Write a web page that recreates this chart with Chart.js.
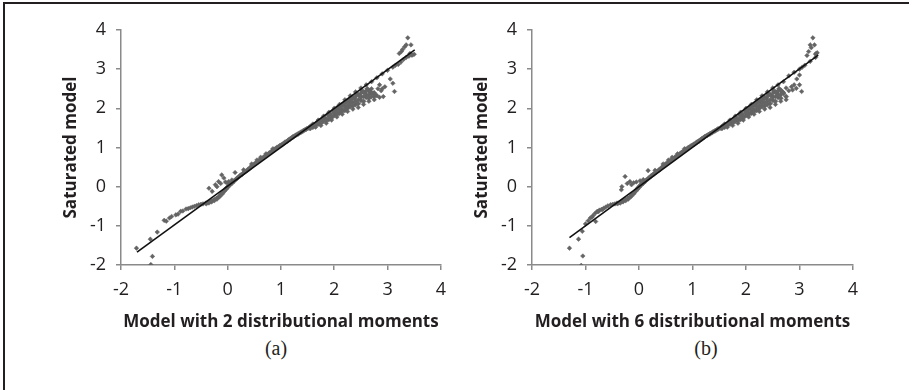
<!DOCTYPE html>
<html>
<head>
<meta charset="utf-8">
<script src="https://cdn.jsdelivr.net/npm/chart.js@4.4.1/dist/chart.umd.min.js"></script>
<style>
  html, body { margin: 0; padding: 0; background: #fff; }
  #fig { position: relative; width: 909px; height: 390px; overflow: hidden; }
  #frame { position: absolute; left: 3px; top: 2px; width: 920px; height: 400px;
           border-top: 2px solid #231f20; border-left: 2px solid #231f20; }
  .panel { position: absolute; top: 0; height: 335px; }
  .cap { position: absolute; top: 337px; font-family: "Liberation Serif", "DejaVu Serif", serif;
         font-size: 20px; color: #231f20; transform: translateX(-50%); }
</style>
</head>
<body>
<div id="fig">
  <div id="frame"></div>
  <div class="panel" style="left:0;width:455px"><canvas id="chartA" width="455" height="335"></canvas></div>
  <div class="panel" style="left:455px;width:454px"><canvas id="chartB" width="454" height="335"></canvas></div>
  <div class="cap" style="left:276px">(a)</div>
  <div class="cap" style="left:706px">(b)</div>
</div>
<script>
// axis ticks (both panels)
var tickValues = [-2, -1, 0, 1, 2, 3, 4];
var xTitles = ['Model with 2 distributional moments', 'Model with 6 distributional moments'];
var yTitle = 'Saturated model';

// fitted line end points
var fitA = [[-1.70, -1.67], [3.51, 3.49]];
var fitB = [[-1.30, -1.30], [3.35, 3.36]];

// dense middle band, shared shape in both panels
var bandMid = [
  [-0.40,-0.43],[-0.35,-0.41],[-0.30,-0.38],[-0.25,-0.35],[-0.20,-0.31],[-0.15,-0.25],
  [-0.10,-0.18],[-0.06,-0.11],[-0.02,-0.05],[0.00,-0.01],[0.04,0.04],[0.08,0.09],
  [0.125,0.15],[0.175,0.21],[0.225,0.27],[0.275,0.32],[0.325,0.38],[0.375,0.43],
  [0.425,0.49],[0.475,0.55],[0.525,0.60],[0.575,0.65],[0.625,0.70],[0.675,0.75],
  [0.725,0.80],[0.775,0.85],[0.825,0.90],[0.875,0.95],[0.925,1.00],[0.975,1.04],
  [1.025,1.08],[1.075,1.13],[1.125,1.17],[1.175,1.22],[1.225,1.27],[1.275,1.31],
  [1.325,1.35],[1.375,1.39],[1.425,1.43],[1.475,1.47],[1.525,1.50],
  [1.60,1.52],[1.70,1.60],[1.80,1.68],[1.90,1.72],[2.00,1.82],[2.10,1.88],[2.20,1.95],
  [2.30,2.05],[2.40,2.10],[2.50,2.20],[2.60,2.28],[1.58,1.56],[1.68,1.64],[1.78,1.74],
  [1.88,1.84],[1.98,1.94],[2.08,2.04],[2.18,2.12],[2.28,2.18],[2.38,2.26],[2.48,2.32],
  [2.58,2.40],[2.68,2.42],[1.62,1.58],[1.72,1.68],[1.82,1.76],[1.92,1.86],[2.02,1.96],
  [2.12,2.06],[2.22,2.16],[2.32,2.22],[2.42,2.36],[2.52,2.44],[2.62,2.50],
  [1.65,1.56],[1.75,1.62],[1.85,1.68],[1.95,1.76],[2.05,1.84],[2.15,1.92],[2.25,2.00],
  [2.35,2.06],[2.45,2.12],[2.55,2.18],[2.65,2.26],[2.75,2.30],
  [1.70,1.66],[1.80,1.72],[1.90,1.82],[2.00,1.88],[2.10,1.96],[2.20,2.04],[2.30,2.12],
  [2.40,2.18],[2.50,2.28],[2.60,2.34],[2.70,2.38],
  [2.25,2.20],[2.35,2.28],[2.45,2.36],[2.55,2.42],[2.65,2.46],[2.15,2.10],[2.05,2.00]
];

// scatter points
var pointsA = [
  [-1.71,-1.57],[-1.45,-1.34],[-1.41,-1.78],[-1.44,-1.99],[-1.32,-1.16],
  [-1.19,-0.86],[-1.15,-0.88],[-1.09,-0.80],[-1.05,-0.76],[-0.97,-0.72],[-0.93,-0.70],
  [-0.88,-0.63],[-0.84,-0.62],[-0.78,-0.57],[-0.74,-0.56],[-0.70,-0.54],[-0.66,-0.52],
  [-0.62,-0.50],[-0.58,-0.48],[-0.54,-0.46],[-0.50,-0.45],[-0.46,-0.44],[-0.41,-0.42],
  [-0.37,-0.41],[-0.33,-0.38],[-0.29,-0.36],[-0.25,-0.33],[-0.21,-0.30],[-0.17,-0.26],
  [-0.13,-0.20],[-0.09,-0.14],[-0.05,-0.08],[-0.02,-0.03],[0.02,0.03],[0.05,0.08],
  [-0.35,-0.04],[-0.29,-0.12],[-0.23,0.05],[-0.17,0.13],[-0.11,0.30],[-0.07,0.22],
  [-0.13,0.08],[-0.04,0.12],[0.02,0.13],[0.08,0.17],[0.14,0.36],[0.30,0.43],[-0.20,0.00],[0.00,0.08],
  [0.10,0.12],[0.15,0.18],[0.20,0.24],[0.25,0.30],[0.30,0.35],[0.35,0.40],[0.40,0.45],
  [0.45,0.52],[0.50,0.58],[0.55,0.62],[0.60,0.68],[0.65,0.72],[0.70,0.78],[0.75,0.82],
  [0.80,0.88],[0.85,0.92],[0.90,0.97],[0.95,1.02],[1.00,1.06],[1.05,1.10],[1.10,1.15],
  [1.15,1.20],[1.20,1.25],[1.25,1.29],[1.30,1.33],[1.35,1.37],[1.40,1.41],[1.45,1.45],[1.50,1.49],
  [0.45,0.58],[0.55,0.68],[0.62,0.75],[0.72,0.84],[0.85,0.97],
  [1.55,1.54],[1.60,1.60],[1.70,1.70],[1.80,1.80],[1.90,1.90],[2.00,2.00],[2.10,2.10],
  [2.20,2.22],[2.30,2.32],[2.40,2.42],[2.50,2.52],[2.60,2.60],[2.70,2.68],
  [1.55,1.48],[1.65,1.52],[1.75,1.56],[1.85,1.62],[1.95,1.70],[2.05,1.78],[2.15,1.85],
  [2.25,1.92],[2.35,1.98],[2.45,2.02],[2.55,2.10],[2.65,2.18],[2.75,2.22],[2.85,2.28],
  [1.65,1.60],[1.75,1.65],[1.85,1.72],[1.95,1.80],[2.05,1.90],[2.15,1.98],[2.25,2.08],
  [2.35,2.15],[2.45,2.22],[2.55,2.30],[2.65,2.35],[2.75,2.40],[2.20,2.15],[2.40,2.30],
  [2.50,2.38],[2.60,2.45],[2.70,2.50],[2.30,2.25],[2.10,2.00],[2.00,1.90],[1.90,1.78],
  [2.73,2.39],[2.80,2.32],[2.92,2.30],[2.88,2.45],[2.95,2.55],[3.10,2.64],[3.13,2.43],
  [3.05,2.75],[2.85,2.60],[2.90,2.50],[2.78,2.35],[2.82,2.50],[2.70,2.30],
  [2.80,2.78],[2.90,2.88],[3.00,2.97],[3.10,3.05],[3.15,3.10],[3.20,3.12],[3.25,3.18],
  [3.30,3.25],[3.35,3.30],[3.40,3.33],[3.45,3.36],[3.50,3.38],[3.47,3.36],[3.42,3.40],
  [3.38,3.80],[3.26,3.45],[3.32,3.57],[3.44,3.62],[3.28,3.50],[3.35,3.62],[3.22,3.40]
];

// scatter points
var pointsB = [
  [-1.30,-1.57],[-1.13,-1.34],[-1.06,-1.14],[-1.05,-1.77],[-1.08,-2.01],[-0.81,-0.89],
  [-1.00,-0.95],[-0.95,-0.87],[-0.91,-0.80],[-0.86,-0.74],[-0.82,-0.68],[-0.78,-0.63],
  [-0.74,-0.60],[-0.70,-0.58],[-0.66,-0.55],[-0.62,-0.52],[-0.58,-0.49],[-0.53,-0.46],
  [-0.49,-0.45],[-0.45,-0.44],[-0.41,-0.42],[-0.88,-0.78],[-0.76,-0.64],[-0.68,-0.58],
  [-0.37,-0.41],[-0.33,-0.38],[-0.29,-0.36],[-0.25,-0.33],[-0.21,-0.30],[-0.17,-0.26],
  [-0.13,-0.20],[-0.09,-0.14],[-0.05,-0.08],[-0.02,-0.03],[0.02,0.03],[0.05,0.08],
  [-0.33,-0.08],[-0.32,0.00],[-0.26,0.26],[-0.17,0.13],[-0.10,0.10],[-0.14,0.05],
  [-0.05,0.12],[0.02,0.15],[0.08,0.18],[0.17,0.41],[0.30,0.42],[-0.22,0.08],
  [0.10,0.12],[0.15,0.18],[0.20,0.24],[0.25,0.30],[0.30,0.35],[0.35,0.40],[0.40,0.45],
  [0.45,0.52],[0.50,0.58],[0.55,0.62],[0.60,0.68],[0.65,0.72],[0.70,0.78],[0.75,0.82],
  [0.80,0.88],[0.85,0.92],[0.90,0.97],[0.95,1.02],[1.00,1.06],[1.05,1.10],[1.10,1.15],
  [1.15,1.20],[1.20,1.25],[1.25,1.29],[1.30,1.33],[1.35,1.37],[1.40,1.41],[1.45,1.45],[1.50,1.49],
  [0.45,0.58],[0.55,0.68],[0.62,0.75],[0.72,0.84],[0.85,0.97],
  [1.55,1.54],[1.60,1.60],[1.70,1.70],[1.80,1.80],[1.90,1.90],[2.00,2.00],[2.10,2.10],
  [2.20,2.22],[2.30,2.32],[2.40,2.42],[2.50,2.52],[2.60,2.60],[2.70,2.68],
  [1.55,1.48],[1.65,1.52],[1.75,1.56],[1.85,1.62],[1.95,1.70],[2.05,1.78],[2.15,1.85],
  [2.25,1.92],[2.35,1.98],[2.45,2.02],[2.55,2.10],[2.65,2.18],[2.75,2.22],
  [1.65,1.60],[1.75,1.65],[1.85,1.72],[1.95,1.80],[2.05,1.90],[2.15,1.98],[2.25,2.08],
  [2.35,2.15],[2.45,2.22],[2.55,2.30],[2.65,2.35],[2.20,2.15],[2.40,2.30],
  [2.50,2.38],[2.60,2.45],[2.30,2.25],[2.10,2.00],[2.00,1.90],[1.90,1.78],
  [2.60,2.35],[2.70,2.40],[2.80,2.45],[2.87,2.47],[2.94,2.51],[3.00,2.60],[3.04,2.43],
  [2.95,2.75],[3.00,2.85],[2.90,2.60],[2.75,2.52],[2.85,2.55],
  [2.80,2.83],[2.90,2.92],[3.00,3.00],[3.05,3.05],[3.10,3.10],[3.20,3.20],[3.30,3.30],
  [3.25,3.80],[3.20,3.62],[3.17,3.45],[3.31,3.40],[3.22,3.55],[3.28,3.62],[3.14,3.35],
  [3.30,3.38],[3.33,3.42]
];

function toXY(list) {
  return list.map(function(p) { return { x: p[0], y: p[1] }; });
}

var axisGrey = '#8a8a8a';
var textCol = '#231f20';
var dotCol = '#646464';

function makeChart(id, points, fit, xTitle, padLeft, padRight) {
  var ctx = document.getElementById(id).getContext('2d');
  return new Chart(ctx, {
    type: 'scatter',
    data: {
      datasets: [{
        type: 'line',
        data: toXY(fit),
        borderColor: '#111',
        borderWidth: 1.6,
        pointRadius: 0,
        fill: false
      }, {
        data: toXY(points),
        pointStyle: 'rectRot',
        pointRadius: 2.3,
        backgroundColor: dotCol,
        borderColor: dotCol,
        borderWidth: 0.5
      }, {
        data: toXY(bandMid),
        pointStyle: 'rectRot',
        pointRadius: 2.6,
        backgroundColor: dotCol,
        borderColor: dotCol,
        borderWidth: 0.5
      }]
    },
    options: {
      responsive: false,
      animation: false,
      layout: { padding: { left: padLeft, right: padRight, top: 30, bottom: 0 } },
      plugins: { legend: { display: false }, tooltip: { enabled: false } },
      scales: {
        x: {
          type: 'linear', min: -2, max: 4,
          afterBuildTicks: function(s) { s.ticks = tickValues.map(function(v) { return { value: v }; }); },
          afterFit: function(s) { s.height = 70; },
          grid: { drawOnChartArea: false, tickLength: 5, color: axisGrey, lineWidth: 1.5 },
          border: { color: axisGrey, width: 1.5 },
          ticks: { color: textCol, padding: 9, font: { family: 'Open Sans', size: 18 } },
          title: { display: true, text: xTitle, color: textCol, padding: { top: 0, bottom: 3 },
                   font: { family: 'Open Sans', size: 17, weight: 'bold' } }
        },
        y: {
          type: 'linear', min: -2, max: 4,
          afterBuildTicks: function(s) { s.ticks = tickValues.map(function(v) { return { value: v }; }); },
          afterFit: function(s) { s.width = 60; },
          grid: { drawOnChartArea: false, tickLength: 5, color: axisGrey, lineWidth: 1.5 },
          border: { color: axisGrey, width: 1.5 },
          ticks: { color: textCol, padding: 10, font: { family: 'Open Sans', size: 18 } },
          title: { display: true, text: yTitle, color: textCol, padding: { top: 0, bottom: 0 },
                   font: { family: 'Open Sans', size: 17, weight: 'bold' } }
        }
      }
    }
  });
}

makeChart('chartA', pointsA, fitA, xTitles[0], 61, 10);
makeChart('chartB', pointsB, fitB, xTitles[1], 17, 56);
</script>
</body>
</html>
